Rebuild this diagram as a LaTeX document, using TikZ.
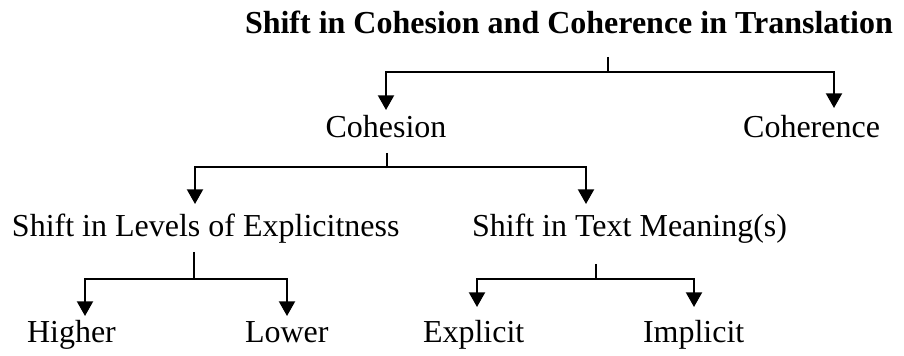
\documentclass[tikz,border=0pt]{standalone}
\usepackage{fontspec}
\setmainfont{Liberation Serif}
\usetikzlibrary{arrows.meta}
\begin{document}
\begin{tikzpicture}[x=0.75pt,y=-0.75pt,
  lbl/.style={inner sep=0pt,outer sep=0pt,font=\fontsize{24}{28}\selectfont},
  ttl/.style={lbl,font=\fontsize{24}{28}\selectfont\bfseries},
  stem/.style={line width=0.9pt},
  arr/.style={line width=1.5pt,-{Triangle[width=12pt,length=11pt]}}]
\useasboundingbox (0,0) rectangle (904,356);
% texts
\node[ttl,anchor=base west] (title) at (245,34) {Shift in Cohesion and Coherence in Translation};
\node[lbl,anchor=base] (cohesion) at (386,138) {Cohesion};
\node[lbl,anchor=base east] (coherence) at (880,138) {Coherence};
\node[lbl,anchor=base west] (levels) at (12,237) {Shift in Levels of Explicitness};
\node[lbl,anchor=base west] (meaning) at (472,237) {Shift in Text Meaning(s)};
\node[lbl,anchor=base west] (higher) at (27,343) {Higher};
\node[lbl,anchor=base west] (lower) at (245,343) {Lower};
\node[lbl,anchor=base west] (explicit) at (423,343) {Explicit};
\node[lbl,anchor=base west] (implicit) at (643,343) {Implicit};
% coordinates
\coordinate (s0) at (608,57);   \coordinate (j0) at (608,72);
\coordinate (t1) at (386,110);  \coordinate (t2) at (834,108);
\coordinate (s1) at (387,153);  \coordinate (j1) at (387,167);
\coordinate (t3) at (195,204);  \coordinate (t4) at (586,204);
\coordinate (s2) at (194,252);  \coordinate (j2) at (194,279);
\coordinate (t5) at (85,316);   \coordinate (t6) at (287,316);
\coordinate (s3) at (596,264);  \coordinate (j3) at (596,279);
\coordinate (t7) at (477,307);  \coordinate (t8) at (694,307);
% connectors
\draw[stem] (s0) -- (j0);
\draw[arr] (j0) -| (t1);
\draw[arr] (j0) -| (t2);
\draw[stem] (s1) -- (j1);
\draw[arr] (j1) -| (t3);
\draw[arr] (j1) -| (t4);
\draw[stem] (s2) -- (j2);
\draw[arr] (j2) -| (t5);
\draw[arr] (j2) -| (t6);
\draw[stem] (s3) -- (j3);
\draw[arr] (j3) -| (t7);
\draw[arr] (j3) -| (t8);
\end{tikzpicture}
\end{document}
